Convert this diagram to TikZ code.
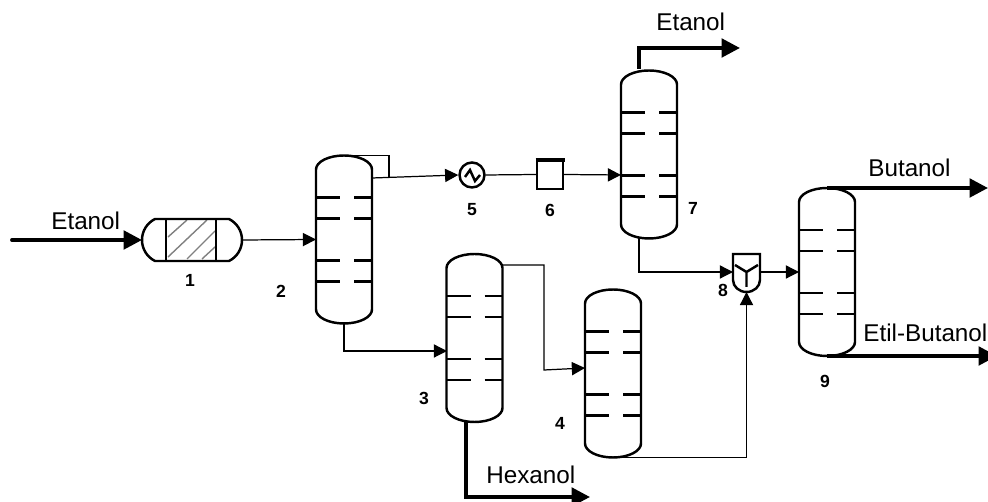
\documentclass[tikz,border=0pt]{standalone}
\usepackage{fontspec}
\setmainfont{Liberation Sans}
\usetikzlibrary{arrows.meta}

\begin{document}
\begin{tikzpicture}[x=0.02cm,y=-0.02cm,
    wall/.style={line width=1.4pt},
    thinline/.style={line width=0.7pt},
    feedline/.style={thinline,-{Triangle[length=7.5pt,width=7.5pt]}},
    productline/.style={line width=2.2pt,-{Triangle[length=10.5pt,width=10.5pt]}},
    streamname/.style={anchor=base west,inner sep=0pt,font=\fontsize{13.8}{16}\selectfont},
    unitnumber/.style={inner sep=0pt,font=\fontsize{10}{12}\selectfont\bfseries},
    tower/.pic={
        \node[minimum width=1.12cm,minimum height=3.36cm,inner sep=0pt,outer sep=0pt] (body) at (0,0) {};
        \draw[wall] (-28,-70) arc[start angle=180,end angle=360,x radius=28,y radius=14]
            -- (28,70) arc[start angle=0,end angle=180,x radius=28,y radius=14] -- cycle;
        \draw[wall] (-28,-42) -- (-4,-42) (10,-42) -- (28,-42);
        \draw[wall] (-28,-21) -- (-4,-21) (10,-21) -- (28,-21);
        \draw[wall] (-28,21) -- (-4,21) (10,21) -- (28,21);
        \draw[wall] (-28,42) -- (-4,42) (10,42) -- (28,42);
    }]
    \useasboundingbox (0,0) rectangle (988,502);

    % Reactor
    \node[minimum width=2cm,minimum height=0.84cm,inner sep=0pt,outer sep=0pt] (r1) at (192,240) {};
    \draw[gray,line width=0.8pt] (168,237) -- (187,220) (168,257) -- (207,220)
        (187,259) -- (215,231) (202,259) -- (215,247);
    \draw[wall] (155,219) -- (229,219) .. controls (237,223) and (242,231) .. (242,240)
        .. controls (242,249) and (237,257) .. (229,261) -- (155,261)
        .. controls (147,257) and (142,249) .. (142,240)
        .. controls (142,231) and (147,223) .. (155,219) -- cycle;
    \draw[wall] (166,219) -- (166,261);
    \draw[wall] (216,219) -- (216,261);

    % Columns
    \pic (c2) at (344,239.5) {tower};
    \pic (c3) at (474.5,338) {tower};
    \pic (c4) at (613,373.5) {tower};
    \pic (c7) at (649,154.5) {tower};
    \pic (c9) at (827,272) {tower};

    % Exchanger, drum and mixer
    \node[draw,wall,circle,minimum size=0.5cm,inner sep=0pt] (e5) at (472,175) {};
    \draw[wall] (465,177) -- (470,170) -- (475,181) -- (480,175);
    \node[draw,wall,minimum width=0.52cm,minimum height=0.58cm,inner sep=0pt] (d6) at (550,174.5) {};
    \draw[line width=2pt] (535.5,160) -- (564.5,160);
    \node[minimum width=0.54cm,minimum height=0.8cm,inner sep=0pt,outer sep=0pt] (m8) at (746.5,272) {};
    \draw[wall] (733,254) -- (760,254) -- (760,280)
        arc[start angle=0,end angle=180,x radius=13.5,y radius=12] -- cycle;
    \draw[wall] (735,265) -- (746.5,272) -- (758,265) (746.5,272) -- (746.5,287);

    % Free ends of the streams
    \coordinate (feedstart) at (12,240);
    \coordinate (c2out) at (372,178);
    \coordinate (c2loop) at (389,178);
    \coordinate (c3in) at (447,351);
    \coordinate (c3out) at (502,265);
    \coordinate (c3turn) at (544,370);
    \coordinate (c4in) at (585,368);
    \coordinate (c3bottom) at (466,422);
    \coordinate (hexanolend) at (590,497);
    \coordinate (c7in) at (621,175);
    \coordinate (c7top) at (639,69);
    \coordinate (etanolend) at (740,48);
    \coordinate (c7bottom) at (639,238);
    \coordinate (butanolend) at (988,188);
    \coordinate (etilend) at (997,356);

    % Thin streams
    \draw[feedline] (r1.east) -- (c2body.west);
    \draw[thinline] (c2body.north) -| (c2loop);
    \draw[feedline] (c2out) -- (e5.west);
    \draw[thinline] (e5.east) -- (d6.west);
    \draw[feedline] (d6.east) -- (c7in);
    \draw[feedline] (c2body.south) |- (c3in);
    \draw[feedline] (c3out) -| (c3turn) -- (c4in);
    \draw[feedline] (c7bottom) |- (m8.west);
    \draw[feedline] (c4body.south) -| (m8.south);
    \draw[feedline] (m8.east) -- (c9body.west);

    % Thick streams
    \draw[productline,line cap=round] (feedstart) -- (r1.west);
    \draw[productline] (c7top) |- (etanolend);
    \draw[productline] (c3bottom) |- (hexanolend);
    \draw[productline] (c9body.north) -- (butanolend);
    \draw[productline] (c9body.south) -- (etilend);

    % Stream names
    \node[streamname] (feedname) at (51,230) {Etanol};
    \node[streamname] (etanolname) at (656,31) {Etanol};
    \node[streamname] (hexanolname) at (486,484) {Hexanol};
    \node[streamname] (butanolname) at (868,177) {Butanol};
    \node[streamname] (etilname) at (863,342) {Etil-Butanol};

    % Unit numbers
    \node[unitnumber] (n1) at (190,280) {1};
    \node[unitnumber] (n2) at (281,291) {2};
    \node[unitnumber] (n3) at (424,398) {3};
    \node[unitnumber] (n4) at (560,423) {4};
    \node[unitnumber] (n5) at (472,210) {5};
    \node[unitnumber] (n6) at (550,210) {6};
    \node[unitnumber] (n7) at (693,208) {7};
    \node[unitnumber] (n8) at (723,290) {8};
    \node[unitnumber] (n9) at (825,381) {9};

\end{tikzpicture}
\end{document}
